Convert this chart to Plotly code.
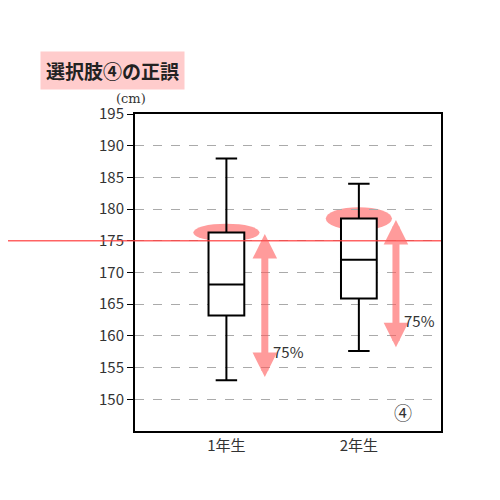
import plotly.graph_objects as go

grades = ["1年生", "2年生"]
low = [153.0, 157.6]
q1 = [163.2, 165.9]
med = [168.1, 172.0]
q3 = [176.3, 178.5]
high = [188.0, 184.0]
border_line = 175
arrow_x = [0.29, 1.28]
arrow_bottom = [153.5, 158.2]
pct_label = "75%"

font = "Noto Sans CJK JP"
pink = "rgba(255,90,90,0.6)"

fig = go.Figure()
fig.add_trace(go.Box(
    x=[0, 1], q1=q1, median=med, q3=q3, lowerfence=low, upperfence=high,
    fillcolor="white", line=dict(color="black", width=2), width=0.27,
    whiskerwidth=0.6, boxpoints=False, showlegend=False, hoverinfo="skip"))

for i in range(2):
    # ellipse marking the upper quartile
    h = 1.4 if i == 0 else 1.8
    fig.add_shape(type="circle", xref="x", yref="y", x0=i - 0.25, x1=i + 0.25,
                  y0=q3[i] - h, y1=q3[i] + h, fillcolor=pink, line_width=0, layer="below")
    fig.add_annotation(x=arrow_x[i], y=arrow_bottom[i], ax=arrow_x[i], ay=q3[i],
                       xref="x", yref="y", axref="x", ayref="y", text="",
                       showarrow=True, arrowhead=2, arrowside="end+start",
                       arrowwidth=7, arrowsize=0.7, arrowcolor=pink)
    fig.add_annotation(x=arrow_x[i] + 0.18, y=[157.5, 162.5][i], text=pct_label,
                       showarrow=False, font=dict(size=15, color="#333"))

fig.add_shape(type="line", xref="paper", yref="y", x0=-0.5, x1=1.0,
              y0=border_line, y1=border_line, line=dict(color="rgba(255,60,60,0.8)", width=1.5))

fig.add_annotation(x=1.33, y=148, xref="x", yref="y", text="④", showarrow=False,
                   font=dict(size=18, color="#333"))
fig.add_annotation(x=-0.07, y=1.08, xref="paper", yref="paper", text="(cm)",
                   showarrow=False, font=dict(size=13, color="#333", family="DejaVu Serif"))
fig.add_annotation(x=-0.31, y=1.2, xref="paper", yref="paper", xanchor="left",
                   text="<b>選択肢④の正誤</b>", showarrow=False, bgcolor="#fcc",
                   borderpad=5, font=dict(size=19, color="#222"))

fig.update_layout(
    width=500, height=500, margin=dict(l=127, r=67, t=106, b=77),
    plot_bgcolor="white", paper_bgcolor="white",
    font=dict(family=font, size=15, color="#333"),
    xaxis=dict(range=[-0.69, 1.62], tickvals=[0, 1], ticktext=grades, showgrid=False,
               showline=True, mirror=True, linecolor="black", linewidth=2, zeroline=False),
    yaxis=dict(range=[145, 195], tickvals=list(range(150, 200, 5)), showgrid=True,
               gridcolor="#aaa", griddash="dash", ticks="outside", ticklen=6,
               tickcolor="black", showline=True, mirror=True, linecolor="black",
               linewidth=2, zeroline=False),
)

fig.write_html("out.html")
